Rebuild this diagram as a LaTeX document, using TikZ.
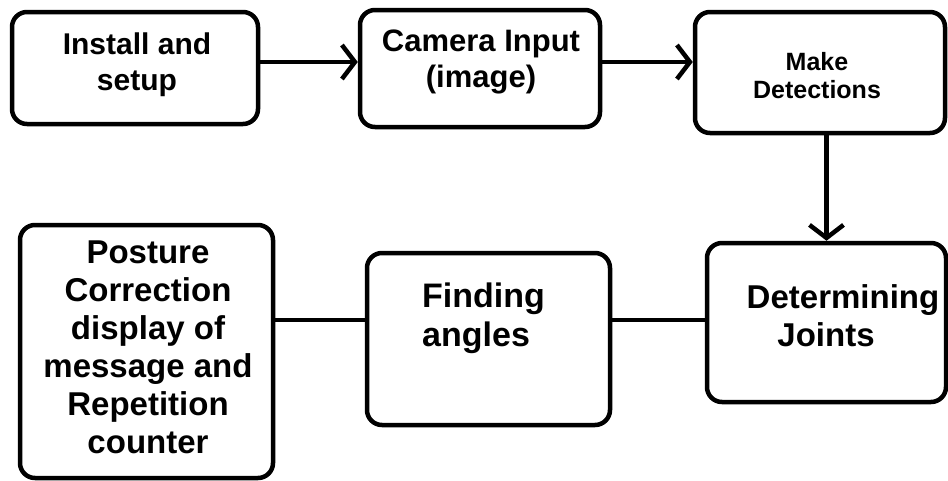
\documentclass[tikz,border=0pt]{standalone}
\usepackage{fontspec}
\setmainfont{Liberation Sans}
\usetikzlibrary{arrows.meta}
\begin{document}
\begin{tikzpicture}[x=1pt,y=-1pt,
  box/.style={draw=black, line width=4.5pt, rounded corners=15pt, inner sep=0pt, fill=white},
  txt/.style={align=center, inner sep=0pt, font=\bfseries},
  conn/.style={line width=4.5pt},
  arr/.style={line width=4.5pt, -{Straight Barb[length=13pt,width=34pt]}}]
\fill[white] (0,0) rectangle (948,480);
\useasboundingbox (0,0) rectangle (948,480);
\node[box, minimum width=246pt, minimum height=112pt] (b1) at (135,68) {};
\node[box, minimum width=240pt, minimum height=117pt] (b2) at (480,68.5) {};
\node[box, minimum width=250pt, minimum height=121pt] (b3) at (820,72.5) {};
\node[box, minimum width=239pt, minimum height=159pt] (b4) at (826.5,322.5) {};
\node[box, minimum width=243pt, minimum height=172pt] (b5) at (488.5,339) {};
\node[box, minimum width=253pt, minimum height=253pt] (b6) at (146.5,351.5) {};
\node[txt, font=\bfseries\fontsize{30}{36}\selectfont] (t1) at (137,65) {Install and\\setup};
\node[txt, font=\bfseries\fontsize{31}{36}\selectfont] (t2) at (481,62) {Camera Input\\(image)};
\node[txt, font=\bfseries\fontsize{25}{28}\selectfont] (t3) at (817,76) {Make\\Detections};
\node[txt, font=\bfseries\fontsize{33}{38}\selectfont] (t4) at (843,316) {Determining\\Joints\hspace*{34pt}};
\node[txt, align=left, anchor=west, font=\bfseries\fontsize{34}{39}\selectfont] (t5) at (422,318) {Finding\\angles};
\node[txt, font=\bfseries\fontsize{33}{38}\selectfont] (t6) at (148,347) {Posture\\Correction\\display of\\message and\\Repetition\\counter};
\draw[arr] ([yshift=6pt]b1.east) -- ([yshift=6.5pt]b2.west);
\draw[arr] ([yshift=6.5pt]b2.east) -- ([yshift=10.5pt]b3.west);
\draw[arr] (b3.south -| b4.north) -- (b4.north);
\draw[conn] ([yshift=19pt]b5.east) -- ([yshift=2.5pt]b4.west);
\draw[conn] ([yshift=31.5pt]b6.east) -- ([yshift=19pt]b5.west);
\end{tikzpicture}
\end{document}
